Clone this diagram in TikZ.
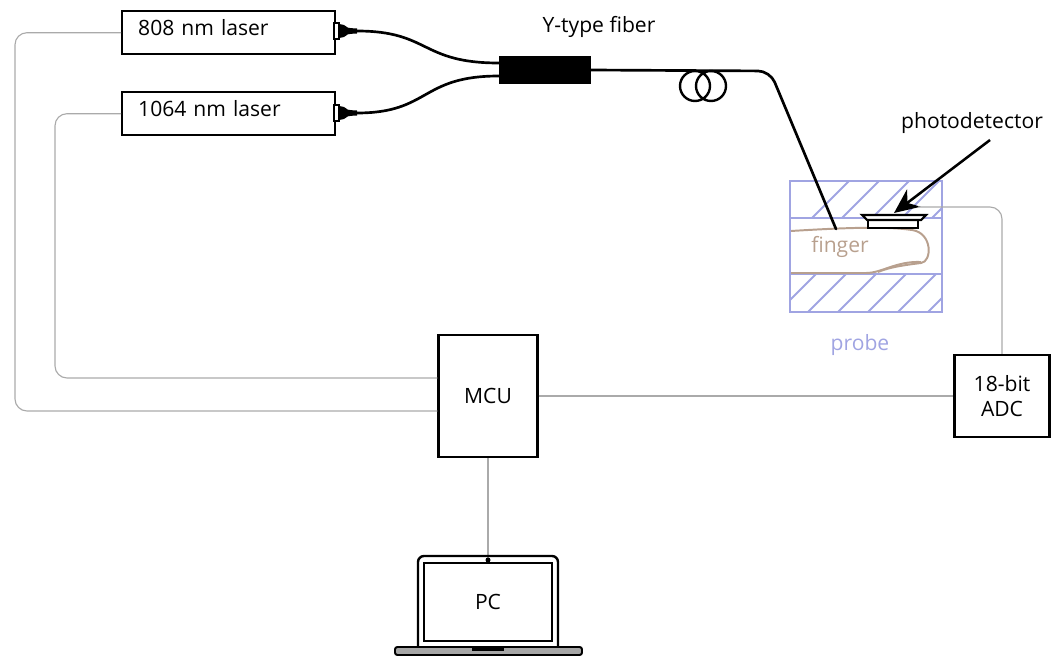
\documentclass[tikz,border=0pt]{standalone}
\usepackage{fontspec}
\setmainfont{Open Sans}
\usetikzlibrary{arrows.meta}

\definecolor{probeblue}{RGB}{160,164,226}
\definecolor{skin}{RGB}{184,160,142}
\definecolor{wiregray}{RGB}{170,170,170}

\begin{document}
\begin{tikzpicture}[x=0.025cm, y=-0.025cm,
    font=\fontsize{15}{18}\selectfont,
    box/.style={draw, line width=1.7pt, fill=white, inner sep=0pt, align=center},
    laser/.style={box, anchor=north west, minimum width=5.325cm, minimum height=1.075cm,
      text width=4.525cm, text depth=0.25cm, align=left},
    wire/.style={draw=wiregray, line width=0.8pt, rounded corners=0.3cm},
    fiber/.style={line width=1.9pt, line cap=round},
    probe/.style={draw=probeblue, line width=1.3pt},
    skinline/.style={draw=skin, line width=1.4pt},
  ]
  \useasboundingbox (0,0) rectangle (1057,657);

  % lasers and electronics
  \node[laser] (l808) at (121,10) {808 nm laser};
  \node[laser] (l1064) at (121,91) {1064 nm laser};
  \node[box, minimum width=2.475cm, minimum height=3.05cm] (mcu) at (488,396) {MCU};
  \node[box, minimum width=2.375cm, minimum height=2.05cm] (adc) at (1002,396) {18-bit\\ADC};

  % fibre connectors on the laser heads
  \foreach \y/\n in {31/a, 113/b} {
    \draw[line width=1.2pt, fill=white] (334,\y-8) rectangle (339,\y+8);
    \fill (339,\y-7) -- (344,\y-6) .. controls (347,\y-3) .. (357,\y-2.5)
      -- (357,\y+2.5) .. controls (347,\y+3) .. (344,\y+6) -- (339,\y+7) -- cycle;
    \coordinate (c\n) at (357,\y);
  }

  % Y coupler
  \node[fill=black, minimum width=2.3cm, minimum height=0.7cm, inner sep=0pt] (ycpl) at (545,70) {};
  \node (ylabel) at (599,27) {Y-type fiber};
  \draw[fiber] (ca) .. controls (430,31) and (420,63) .. ([yshift=0.175cm]ycpl.west);
  \draw[fiber] (cb) .. controls (430,113) and (420,76) .. ([yshift=-0.15cm]ycpl.west);

  % probe with hatched clamps
  \coordinate (tip) at (836,229);
  \begin{scope}
    \clip (790,181) rectangle (942,218) (790,274) rectangle (942,312);
    \foreach \k in {-2,...,7}
      \draw[probe] (770+\k*30,320) -- (910+\k*30,180);
  \end{scope}
  \draw[probe] (790,181) rectangle (942,218);
  \draw[probe] (790,274) rectangle (942,312);
  \draw[probe] (790,218) -- (790,274) (942,218) -- (942,274);
  \node[text=probeblue] (probelbl) at (860,345) {probe};

  % finger
  \draw[skinline] (791,231) .. controls (840,228) and (885,226) .. (912,230)
    .. controls (933,233) and (932,262) .. (921,263)
    .. controls (905,265) and (890,267) .. (878,272);
  \draw[skinline] (791,273) -- (866,273) .. controls (882,273) and (896,261) .. (921,262);
  \node[text=skin] (fingerlbl) at (840,247) {finger};

  % output fibre with coil
  \draw[fiber, rounded corners=0.3cm] (ycpl.east) -- (770,71) -- (tip);
  \draw[line width=1.7pt] (695,86) circle (15) (711,86) circle (15);

  % photodetector
  \draw[line width=1.5pt, fill=white] (868,219) rectangle (918,228);
  \draw[line width=1.5pt, fill=white] (862,215) -- (926,215) -- (921,220) -- (867,220) -- cycle;
  \coordinate (pd) at (894,213);
  \node (pdlbl) at (972,123) {photodetector};
  \draw[-{Stealth[length=0.62cm, width=0.55cm]}, line width=1.8pt] (990,140) -- (pd);

  % wiring
  \draw[wire] (l808.west) -| (15,411) -- ([yshift=-0.375cm]mcu.west);
  \draw[wire] (l1064.west) -| (55,378) -- ([yshift=0.45cm]mcu.west);
  \draw[wire] (mcu.east) -- (adc.west);
  \draw[wire] (918,207) -| (adc.north);

  % laptop
  \coordinate (cam) at (488,560);
  \draw[wire] (mcu.south) -- (cam);
  \draw[line width=1.7pt, rounded corners=0.15cm] (418,647) -- (418,556) -- (558,556) -- (558,647);
  \draw[line width=1.7pt] (424,563) rectangle (552,641);
  \fill (cam) circle (2.5);
  \node (pc) at (488,602) {PC};
  \draw[line width=1.4pt, fill=gray!70, rounded corners=0.06cm] (395,647) rectangle (582,655);
  \fill (472,647) rectangle (504,651);
\end{tikzpicture}
\end{document}
